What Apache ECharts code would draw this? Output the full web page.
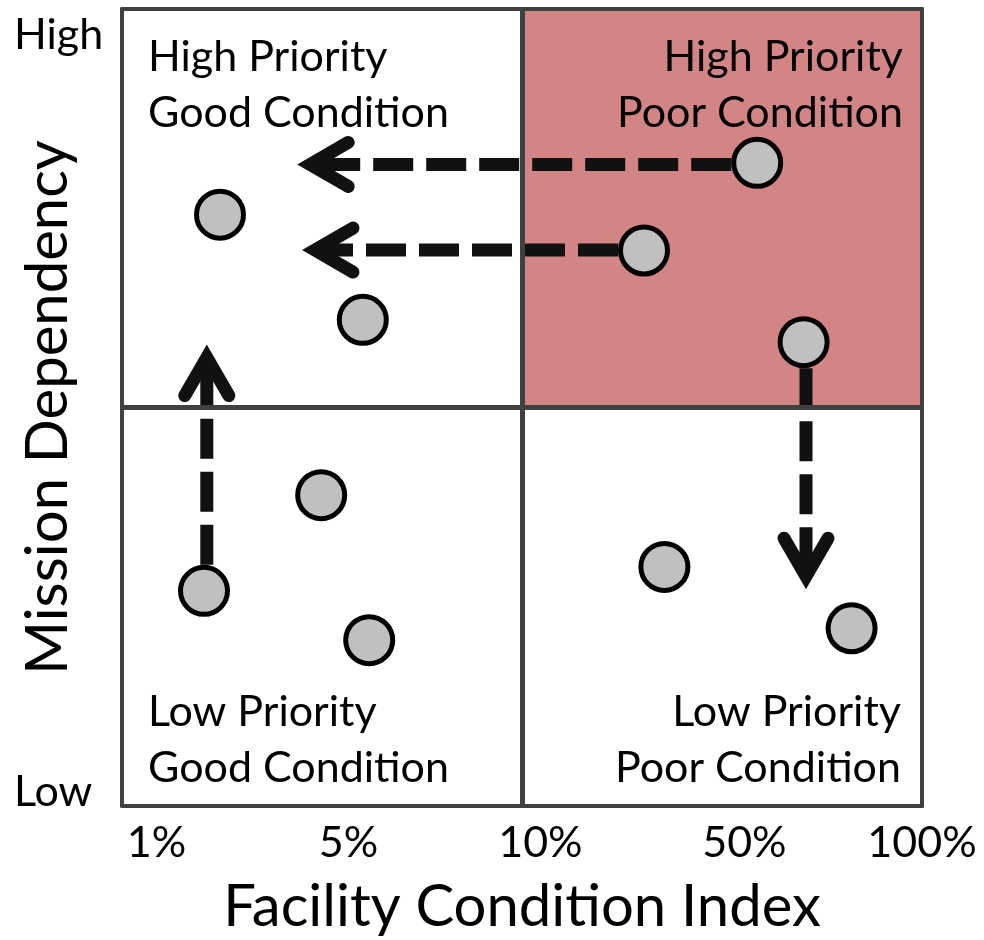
<!DOCTYPE html>
<html>
<head>
<meta charset="utf-8">
<script src="https://cdn.jsdelivr.net/npm/echarts@6/dist/echarts.min.js"></script>
<style>
  html, body { margin: 0; padding: 0; background: #fff; }
  #chart { width: 984px; height: 940px; }
</style>
</head>
<body>
<div id="chart"></div>
<script>
// facilities, placed in a 0-100 space on both axes (50 = quadrant split)
var pointX = [12.25, 30.1, 79.4, 65.25, 85.2, 24.9, 10.25, 30.9, 67.8, 91.2];
var pointY = [74.2, 61.0, 80.7, 69.7, 58.2, 39.0, 27.0, 20.8, 30.0, 22.3];

// moves: start (facility) -> arrow tip
var arrowFrom = [[79.4, 80.5], [65.25, 69.75], [10.6, 27.0], [85.5, 58.2]];
var arrowTo = [[21.9, 80.5], [22.5, 69.75], [10.6, 57.9], [85.5, 27.2]];

var tickPos = [4.3, 28.3, 52.3, 77.8, 100];
var tickLabels = ['1%', '5%', '10%', '50%', '100%'];
var levelPos = [1.8, 96.7];
var levelLabels = ['Low', 'High'];

var split = 50;
var quadText = [
    'High Priority\nGood Condition',
    'High Priority\nPoor Condition',
    'Low Priority\nGood Condition',
    'Low Priority\nPoor Condition'
];

var font = 'Lato';
var edge = '#404040';
var hot = '#d38484';

var chart = echarts.init(document.getElementById('chart'));

function quadLabel(pos, offset) {
    return {
        show: true,
        position: pos,
        offset: offset,
        distance: 5,
        fontFamily: font,
        fontSize: 43,
        lineHeight: 56,
        color: '#000'
    };
}

var option = {
    animation: false,
    grid: {
        left: 122, right: 62, top: 9, bottom: 134,
        containLabel: false,
        outerBoundsMode: 'none'
    },
    xAxis: [
        {
            type: 'value', min: 0, max: 100, z: 5,
            name: 'Facility Condition Index',
            nameLocation: 'middle',
            nameGap: 72,
            nameMoveOverlap: false,
            nameTextStyle: { fontFamily: font, fontSize: 58, color: '#000' },
            axisLine: { show: true, onZero: false, lineStyle: { color: edge, width: 4 } },
            axisTick: { show: false },
            splitLine: { show: false },
            axisLabel: {
                customValues: tickPos,
                margin: 16,
                fontFamily: font, fontSize: 43, color: '#000',
                formatter: function (v) {
                    var i = tickPos.indexOf(v);
                    return i < 0 ? '' : tickLabels[i];
                }
            }
        },
        {
            type: 'value', min: 0, max: 100, position: 'top', z: 5,
            axisLine: { show: true, onZero: false, lineStyle: { color: edge, width: 4 } },
            axisTick: { show: false }, axisLabel: { show: false }, splitLine: { show: false }
        }
    ],
    yAxis: [
        {
            type: 'value', min: 0, max: 100, z: 5,
            name: 'Mission Dependency',
            nameLocation: 'middle',
            nameRotate: 90,
            nameGap: 45,
            nameMoveOverlap: false,
            nameTextStyle: { fontFamily: font, fontSize: 58, color: '#000' },
            axisLine: { show: true, onZero: false, lineStyle: { color: edge, width: 4 } },
            axisTick: { show: false },
            splitLine: { show: false },
            axisLabel: {
                customValues: levelPos,
                margin: 22,
                align: 'right',
                formatter: function (v) {
                    var i = levelPos.indexOf(v);
                    return i < 0 ? '' : '{a|' + levelLabels[i] + '}';
                },
                rich: {
                    a: { width: 86, align: 'left', fontFamily: font, fontSize: 43, color: '#000' }
                }
            }
        },
        {
            type: 'value', min: 0, max: 100, position: 'right', z: 5,
            axisLine: { show: true, onZero: false, lineStyle: { color: edge, width: 4 } },
            axisTick: { show: false }, axisLabel: { show: false }, splitLine: { show: false }
        }
    ],
    series: [
        {
            // quadrant fills + captions
            type: 'scatter',
            z: 1,
            silent: true,
            data: [],
            markArea: {
                silent: true,
                data: [
                    [{ coord: [0, 100], itemStyle: { color: 'rgba(0,0,0,0)' }, label: quadLabel('insideTopLeft', [21, 15]) },
                     { coord: [split, split] }],
                    [{ coord: [split, 100], itemStyle: { color: hot }, label: quadLabel('insideTopRight', [-14, 15]) },
                     { coord: [100, split] }],
                    [{ coord: [0, split], itemStyle: { color: 'rgba(0,0,0,0)' }, label: quadLabel('insideBottomLeft', [21, -5]) },
                     { coord: [split, 0] }],
                    [{ coord: [split, split], itemStyle: { color: 'rgba(0,0,0,0)' }, label: quadLabel('insideBottomRight', [-16, -5]) },
                     { coord: [100, 0] }]
                ].map(function (pair, i) {
                    pair[0].name = quadText[i];
                    pair[0].label.formatter = quadText[i];
                    return pair;
                })
            }
        },
        {
            // dashed move arrows
            type: 'custom',
            z: 2,
            silent: true,
            encode: { x: [0, 2], y: [1, 3] },
            data: arrowFrom.map(function (f, i) {
                return [f[0], f[1], arrowTo[i][0], arrowTo[i][1]];
            }),
            renderItem: function (params, api) {
                var a = api.coord([api.value(0), api.value(1)]);
                var b = api.coord([api.value(2), api.value(3)]);
                var dx = b[0] - a[0], dy = b[1] - a[1];
                var len = Math.sqrt(dx * dx + dy * dy);
                var ux = dx / len, uy = dy / len;
                var px = -uy, py = ux;
                var r = 26, back = 38, half = 22, tipCut = 13;
                var start = [a[0] + ux * r, a[1] + uy * r];
                var t = [b[0] - ux * tipCut, b[1] - uy * tipCut];
                var base = [t[0] - ux * back, t[1] - uy * back];
                return {
                    type: 'group',
                    children: [
                        {
                            type: 'line',
                            shape: { x1: start[0], y1: start[1], x2: t[0], y2: t[1] },
                            style: { stroke: '#111', lineWidth: 13, lineDash: [40, 13], lineCap: 'butt' }
                        },
                        {
                            type: 'polyline',
                            shape: {
                                points: [
                                    [base[0] + px * half, base[1] + py * half],
                                    t,
                                    [base[0] - px * half, base[1] - py * half]
                                ]
                            },
                            style: { stroke: '#111', fill: null, lineWidth: 13, lineJoin: 'miter', lineCap: 'round' }
                        }
                    ]
                };
            }
        },
        {
            // quadrant split lines
            type: 'scatter',
            z: 3,
            silent: true,
            data: [],
            markLine: {
                silent: true,
                symbol: 'none',
                label: { show: false },
                lineStyle: { color: edge, width: 5, type: 'solid' },
                data: [{ xAxis: split }, { yAxis: split }]
            }
        },
        {
            type: 'scatter',
            z: 4,
            symbolSize: 47,
            itemStyle: { color: '#c0c0c0', borderColor: '#000', borderWidth: 5, opacity: 1 },
            data: pointX.map(function (x, i) { return [x, pointY[i]]; })
        }
    ]
};

chart.setOption(option);
</script>
</body>
</html>
